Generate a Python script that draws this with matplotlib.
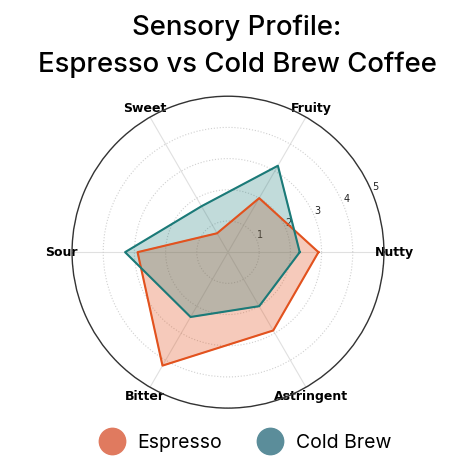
import numpy as np
import matplotlib
matplotlib.use("Agg")
import matplotlib.pyplot as plt
from matplotlib.lines import Line2D

# flavour attributes, counter-clockwise from the right
categories = ["Nutty", "Fruity", "Sweet", "Sour", "Bitter", "Astringent"]
espresso = [2.9, 2.0, 0.7, 2.9, 4.2, 2.9]
cold_brew = [2.3, 3.2, 1.7, 3.3, 2.4, 2.0]
r_ticks = [1, 2, 3, 4, 5]

title = "Sensory Profile:\nEspresso vs Cold Brew Coffee"

esp_line = "#E2521E"
cb_line = "#1B7A78"
esp_legend = "#E07A5F"
cb_legend = "#5B8D9A"

angles = np.linspace(0, 2 * np.pi, len(categories), endpoint=False)
ang_closed = np.concatenate([angles, angles[:1]])

fig = plt.figure(figsize=(4.74, 4.74), dpi=100)
ax = fig.add_axes([0.152, 0.139, 0.658, 0.658], polar=True)

for vals, col, a in [(espresso, esp_line, 0.3), (cold_brew, cb_line, 0.27)]:
    v = np.concatenate([vals, vals[:1]])
    ax.fill(ang_closed, v, color=col, alpha=a, zorder=2)
    ax.plot(ang_closed, v, color=col, lw=1.5, zorder=3)

ax.set_ylim(0, 5)
ax.set_xticks(angles)
ax.set_xticklabels(categories, fontsize=9, fontweight="bold", family="DejaVu Sans")
ax.tick_params(axis="x", pad=-3)
ax.set_yticks(r_ticks)
ax.set_yticklabels([str(t) for t in r_ticks], fontsize=7, color="#222222")
ax.set_rlabel_position(22.5)
ax.yaxis.grid(True, color="#d0d0d0", linestyle=":", lw=0.8)
ax.xaxis.grid(True, color="#e0e0e0", linestyle="-", lw=0.8)
ax.spines["polar"].set_color("#333333")
ax.spines["polar"].set_linewidth(1.0)

fig.text(0.5, 0.97, title, ha="center", va="top", fontsize=19.8, fontweight="medium",
         family=["Inter", "DejaVu Sans"], linespacing=1.52)

handles = [
    Line2D([], [], marker="o", ls="", markersize=19, color=esp_legend, label="Espresso"),
    Line2D([], [], marker="o", ls="", markersize=19, color=cb_legend, label="Cold Brew"),
]
fig.legend(handles=handles, loc="center", bbox_to_anchor=(0.51, 0.066), ncol=2,
           frameon=False, prop={"family": ["Inter", "DejaVu Sans"], "size": 14},
           handletextpad=0.3, columnspacing=1.5)

fig.savefig("out.png", dpi=100)
